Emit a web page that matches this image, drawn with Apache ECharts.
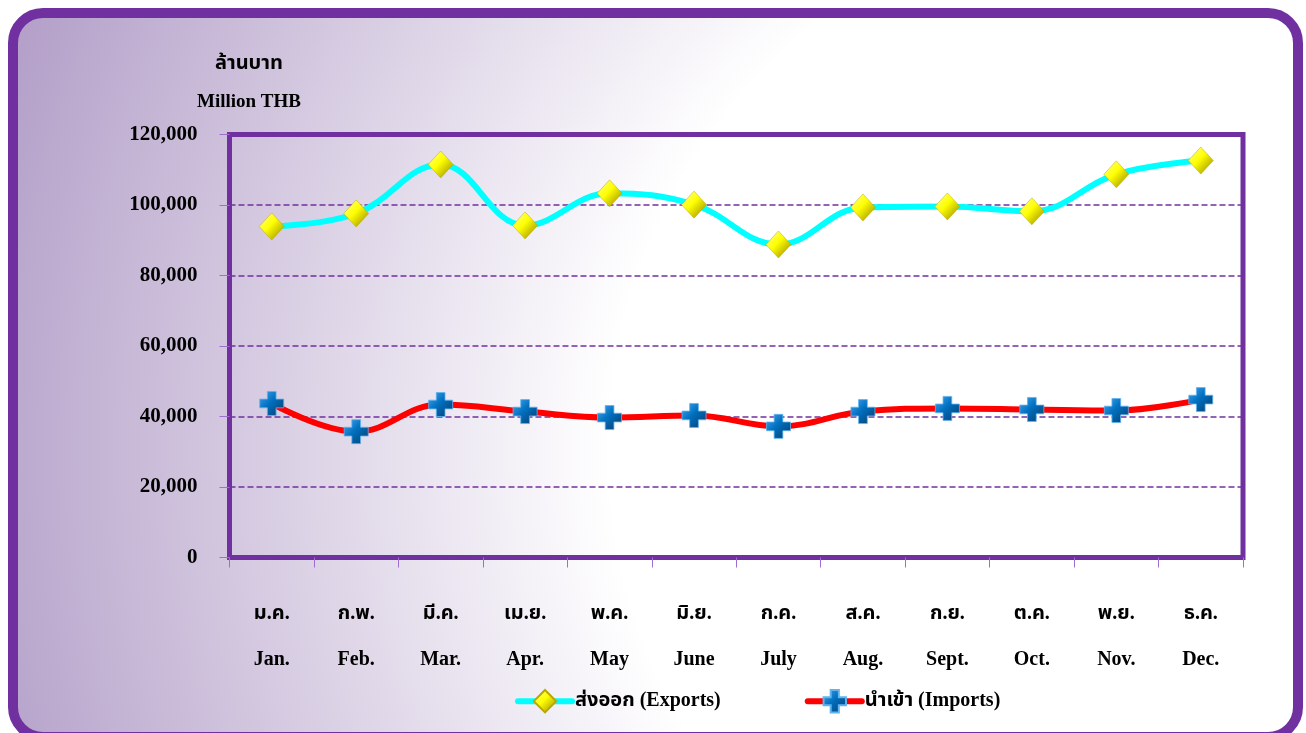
<!DOCTYPE html>
<html>
<head>
<meta charset="utf-8">
<script src="https://cdn.jsdelivr.net/npm/echarts@6/dist/echarts.min.js"></script>
<style>
html,body{margin:0;padding:0;background:#ffffff;}
#chart{width:1306px;height:733px;}
</style>
</head>
<body>
<div id="chart"></div>
<script>
var monthsThai = ['ม.ค.','ก.พ.','มี.ค.','เม.ย.','พ.ค.','มิ.ย.','ก.ค.','ส.ค.','ก.ย.','ต.ค.','พ.ย.','ธ.ค.'];
var monthsEng = ['Jan.','Feb.','Mar.','Apr.','May','June','July','Aug.','Sept.','Oct.','Nov.','Dec.'];
var exportsValues = [93900, 97600, 111500, 94200, 103300, 100100, 88800, 99300, 99600, 98200, 108700, 112600];
var importsValues = [43700, 35700, 43400, 41400, 39700, 40300, 37200, 41400, 42300, 42000, 41700, 44800];
var seriesNames = ['ส่งออก (Exports)', 'นำเข้า (Imports)'];
var unitThai = 'ล้านบาท';
var unitEng = 'Million THB';

var categories = monthsThai.map(function(t, i){ return t + '\n' + monthsEng[i]; });

var FONT = '"Liberation Serif", "Times New Roman", "Noto Sans Thai", serif';
var PURPLE = '#7030A0';

var chart = echarts.init(document.getElementById('chart'), null, {renderer:'canvas'});

var diamondFill = new echarts.graphic.LinearGradient(0, 0, 1, 1, [
  {offset:0, color:'#ffff9a'},
  {offset:0.45, color:'#ffff00'},
  {offset:1, color:'#8f8000'}
]);
var plusFill = new echarts.graphic.LinearGradient(0, 0, 1, 1, [
  {offset:0, color:'#4aa8f0'},
  {offset:0.45, color:'#0070C0'},
  {offset:1, color:'#0a3a66'}
]);
var plusPath = 'path://M7,0 L15,0 L15,7 L22,7 L22,15 L15,15 L15,22 L7,22 L7,15 L0,15 L0,7 L7,7 Z';

var option = {
  animation: false,
  graphic: [
    {
      type: 'rect',
      z: -100,
      silent: true,
      shape: {x: 13, y: 13, width: 1285, height: 724, r: 30},
      style: {
        fill: new echarts.graphic.RadialGradient(1150, 450, 1200, [
          {offset:0, color:'#ffffff'},
          {offset:0.45, color:'#ffffff'},
          {offset:1, color:'#b4a0c9'}
        ], true),
        stroke: PURPLE,
        lineWidth: 10
      }
    },
    {
      type: 'text',
      z: 10,
      left: 215,
      top: 54,
      style: {text: unitThai, font: 'bold 20px ' + FONT, fill: '#000'}
    },
    {
      type: 'text',
      z: 10,
      left: 197,
      top: 93,
      style: {text: unitEng, font: 'bold 19px ' + FONT, fill: '#000'}
    }
  ],
  legend: {
    left: 510,
    top: 684,
    itemWidth: 54,
    itemHeight: 28,
    itemGap: 84,
    lineStyle: {width: 6, cap: 'round'},
    textStyle: {fontFamily: FONT, fontWeight: 'bold', fontSize: 20, color: '#000', padding: [0,0,0,-2]},
    data: seriesNames
  },
  grid: {
    left: 229.5,
    right: 63,
    top: 134.5,
    bottom: 175.5,
    show: true,
    borderColor: PURPLE,
    borderWidth: 5,
    backgroundColor: 'transparent'
  },
  xAxis: {
    type: 'category',
    data: categories,
    boundaryGap: true,
    axisLine: {show: false},
    axisTick: {show: true, length: 10, inside: false, alignWithLabel: false, lineStyle: {color: '#9f6fcf', width: 1}},
    axisLabel: {
      interval: 0,
      margin: 33,
      fontFamily: FONT,
      fontWeight: 'bold',
      fontSize: 20,
      color: '#000',
      lineHeight: 46
    },
    splitLine: {show: false}
  },
  yAxis: {
    type: 'value',
    min: 0,
    max: 120000,
    interval: 20000,
    axisLine: {show: false},
    axisTick: {show: true, length: 10, inside: false, lineStyle: {color: '#9f6fcf', width: 1}},
    axisLabel: {
      margin: 32,
      fontFamily: FONT,
      fontWeight: 'bold',
      fontSize: 21,
      color: '#000',
      formatter: function(v){ return v.toLocaleString('en-US'); }
    },
    splitLine: {show: true, lineStyle: {color: PURPLE, width: 1.5, type: [6, 3]}}
  },
  series: [
    {
      name: seriesNames[0],
      type: 'line',
      data: exportsValues,
      smooth: 0.4,
      symbol: 'diamond',
      symbolSize: [25, 27],
      lineStyle: {color: '#00FFFF', width: 6},
      itemStyle: {color: diamondFill, borderColor: '#b8a800', borderWidth: 0.5},
      z: 3
    },
    {
      name: seriesNames[1],
      type: 'line',
      data: importsValues,
      smooth: 0.4,
      symbol: plusPath,
      symbolSize: 24,
      lineStyle: {color: '#FF0000', width: 6},
      itemStyle: {color: plusFill, borderColor: '#5fb4f0', borderWidth: 0.8},
      z: 3
    }
  ]
};
chart.setOption(option);
</script>
</body>
</html>
